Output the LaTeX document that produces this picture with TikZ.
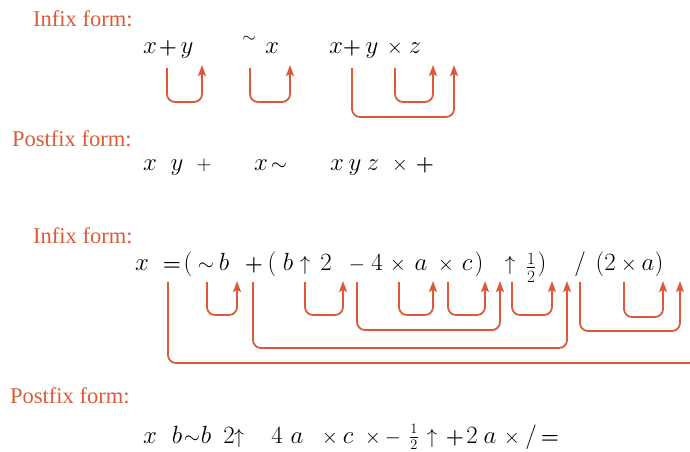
\documentclass[tikz,border=0pt]{standalone}
\usepackage{amsmath}
\usepackage{fontspec}
\newfontfamily\lblfont{Liberation Serif}
\usetikzlibrary{arrows.meta}
\definecolor{rust}{RGB}{221,90,56}
\tikzset{
  lbl/.style={anchor=base west, inner sep=0pt, text=rust, font=\lblfont\fontsize{22.5}{22.5}\selectfont},
  tok/.style={anchor=base, inner sep=0pt, font=\fontsize{25}{25}\selectfont},
  op/.style={anchor=base, inner sep=0pt, font=\fontsize{22}{22}\selectfont},
  frac/.style={anchor=center, inner sep=0pt, font=\fontsize{23}{23}\selectfont},
  arr/.style={draw=rust, line width=1.8pt, rounded corners=8pt,
    -{Stealth[length=11pt,width=8pt,inset=2pt]}},
}
\begin{document}
\begin{tikzpicture}[x=1pt,y=-1pt]
\useasboundingbox (0,0) rectangle (690,451);
\clip (0,0) rectangle (690,451);

% ---------- labels
\node[lbl] (L1) at (33,26) {Infix form:};
\node[lbl] (L2) at (12,146) {Postfix form:};
\node[lbl] (L3) at (33,243) {Infix form:};
\node[lbl] (L4) at (10,403) {Postfix form:};

% ---------- row 1 (infix)
\node[tok] (a1) at (150,53) {$x$};
\node[op]  (a2) at (168,53) {$\boldsymbol{+}$};
\node[tok] (a3) at (187,53) {$y$};
\node[op, anchor=center] (a4) at (249,39) {\fontsize{16}{16}\selectfont$\sim$};
\node[tok] (a5) at (272,53) {$x$};
\node[tok] (a6) at (336,53) {$x$};
\node[op]  (a7) at (352,53) {$\boldsymbol{+}$};
\node[tok] (a8) at (372,53) {$y$};
\node[op]  (a9) at (395,53) {$\times$};
\node[tok] (a10) at (415,53) {$z$};

\coordinate (s1) at (167,68);  \coordinate (e1) at (202,65);
\coordinate (s2) at (250,68);  \coordinate (e2) at (290,65);
\coordinate (s3) at (395,68);  \coordinate (e3) at (433,65);
\coordinate (s4) at (352,68);  \coordinate (e4) at (454,65);
\draw[arr] (s1) -- ++(0,34) -| (e1);
\draw[arr] (s2) -- ++(0,34) -| (e2);
\draw[arr] (s3) -- ++(0,34) -| (e3);
\draw[arr] (s4) -- ++(0,49) -| (e4);

% ---------- row 2 (postfix)
\node[tok] (b1) at (150,170) {$x$};
\node[tok] (b2) at (177,170) {$y$};
\node[op]  (b3) at (204,170) {$+$};
\node[tok] (b4) at (261,170) {$x$};
\node[op]  (b5) at (279,170) {$\sim$};
\node[tok] (b6) at (337,170) {$x$};
\node[tok] (b7) at (355,170) {$y$};
\node[tok] (b8) at (373,170) {$z$};
\node[op]  (b9) at (400,170) {$\times$};
\node[op]  (b10) at (425,170) {$\boldsymbol{+}$};

% ---------- row 3 (infix)
\node[tok] (c1) at (142,270) {$x$};
\node[op]  (c2) at (172,270) {$\boldsymbol{=}$};
\node[tok] (c3) at (188,270) {$($};
\node[op]  (c4) at (206,270) {$\sim$};
\node[tok] (c5) at (224,270) {$b$};
\node[op]  (c6) at (254,270) {$\boldsymbol{+}$};
\node[tok] (c7) at (272,270) {$($};
\node[tok] (c8) at (288,270) {$b$};
\node[op]  (c9) at (305,270) {$\uparrow$};
\node[tok] (c10) at (326,270) {$2$};
\node[op]  (c11) at (357,270) {$-$};
\node[tok] (c12) at (377,270) {$4$};
\node[op]  (c13) at (398,270) {$\times$};
\node[tok] (c14) at (421,270) {$a$};
\node[op]  (c15) at (446,270) {$\times$};
\node[tok] (c16) at (467,270) {$c$};
\node[tok] (c17) at (479,270) {$)$};
\node[op]  (c18) at (510,270) {$\uparrow$};
\node[frac] (c19) at (531,268) {$\tfrac{1}{2}$};
\node[tok] (c20) at (542,270) {$)$};
\node[tok] (c21) at (580,270) {$/$};
\node[tok] (c22) at (600,270) {$($};
\node[tok] (c23) at (610,270) {$2$};
\node[op]  (c24) at (629,270) {$\times$};
\node[tok] (c25) at (648,270) {$a$};
\node[tok] (c26) at (659,270) {$)$};

\coordinate (tA) at (168,282); \coordinate (hA) at (697,250);
\coordinate (tB) at (207,282); \coordinate (hB) at (237,281);
\coordinate (tC) at (253,282); \coordinate (hC) at (567,281);
\coordinate (tD) at (305,282); \coordinate (hD) at (343,281);
\coordinate (tE) at (357,282); \coordinate (hE) at (500,281);
\coordinate (tF) at (399,282); \coordinate (hF) at (433,281);
\coordinate (tG) at (448,282); \coordinate (hG) at (485,281);
\coordinate (tH) at (512,282); \coordinate (hH) at (552,281);
\coordinate (tI) at (580,282); \coordinate (hI) at (680,281);
\coordinate (tJ) at (624,282); \coordinate (hJ) at (663,281);
\draw[arr] (tA) -- ++(0,81) -| (hA);
\draw[arr] (tB) -- ++(0,33) -| (hB);
\draw[arr] (tC) -- ++(0,66) -| (hC);
\draw[arr] (tD) -- ++(0,33) -| (hD);
\draw[arr] (tE) -- ++(0,48) -| (hE);
\draw[arr] (tF) -- ++(0,33) -| (hF);
\draw[arr] (tG) -- ++(0,33) -| (hG);
\draw[arr] (tH) -- ++(0,33) -| (hH);
\draw[arr] (tI) -- ++(0,49) -| (hI);
\draw[arr] (tJ) -- ++(0,35) -| (hJ);

% ---------- row 4 (postfix)
\node[tok] (d1) at (150,443) {$x$};
\node[tok] (d2) at (177,443) {$b$};
\node[op]  (d3) at (192,443) {$\sim$};
\node[tok] (d4) at (206,443) {$b$};
\node[tok] (d5) at (229,443) {$2$};
\node[op]  (d6) at (239,443) {$\uparrow$};
\node[tok] (d7) at (277,443) {$4$};
\node[tok] (d8) at (297,443) {$a$};
\node[op]  (d9) at (330,443) {$\times$};
\node[tok] (d10) at (348,443) {$c$};
\node[op]  (d11) at (373,443) {$\times$};
\node[op]  (d12) at (393,443) {$-$};
\node[frac] (d13) at (414,437) {\fontsize{20}{20}\selectfont$\tfrac{1}{2}$};
\node[op]  (d14) at (432,443) {$\uparrow$};
\node[op]  (d15) at (455,443) {$\boldsymbol{+}$};
\node[tok] (d16) at (472,443) {$2$};
\node[tok] (d17) at (490,443) {$a$};
\node[op]  (d18) at (512,443) {$\times$};
\node[tok] (d19) at (531,443) {$/$};
\node[op]  (d20) at (550,443) {$\boldsymbol{=}$};
\end{tikzpicture}
\end{document}
